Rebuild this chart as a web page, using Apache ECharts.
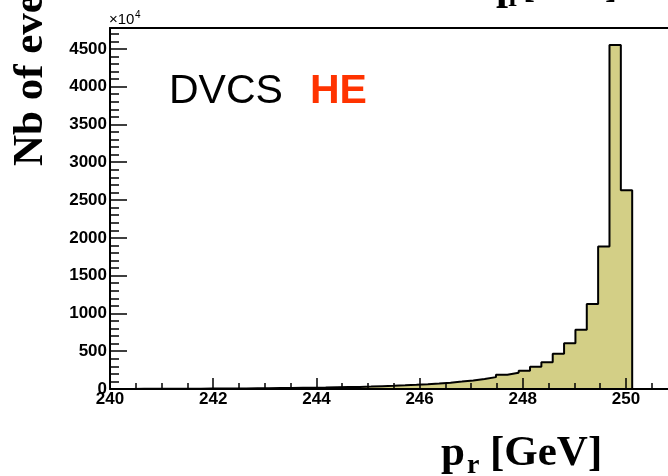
<!DOCTYPE html>
<html>
<head>
<meta charset="utf-8">
<script src="https://cdn.jsdelivr.net/npm/echarts@6/dist/echarts.min.js"></script>
<style>
  html, body { margin: 0; padding: 0; background: #fff; }
  #main { width: 668px; height: 476px; }
</style>
</head>
<body>
<div id="main"></div>
<script>
// histogram: 50 bins of 0.22 GeV starting at 240 GeV
const xLow = 240;
const binWidth = 0.22;
const counts = [
  1, 1, 2, 2, 3, 3, 4, 4, 5, 6,
  7, 8, 9, 10, 12, 13, 15, 17, 19, 22,
  25, 28, 32, 37, 42, 48, 55, 63, 72, 84,
  98, 113, 132, 157, 190, 215, 243, 295, 355, 465,
  605, 785, 1125, 1885, 4550, 2630, 0, 0, 0, 0
];
// the frame is cut by the right edge of the picture
const xAxisRange = [240, 250.814];
const yAxisRange = [0, 4776];

const xMajorTicks = [240, 242, 244, 246, 248, 250];
const xMinorTicks = [240.5, 241, 241.5, 242.5, 243, 243.5, 244.5, 245, 245.5,
  246.5, 247, 247.5, 248.5, 249, 249.5, 250.5];
const yMajorTicks = [0, 500, 1000, 1500, 2000, 2500, 3000, 3500, 4000, 4500];
const yMinorTicks = [100, 200, 300, 400, 600, 700, 800, 900, 1100, 1200, 1300, 1400,
  1600, 1700, 1800, 1900, 2100, 2200, 2300, 2400, 2600, 2700, 2800, 2900,
  3100, 3200, 3300, 3400, 3600, 3700, 3800, 3900, 4100, 4200, 4300, 4400,
  4600, 4700];

const serif = '"Liberation Serif", "Times New Roman", serif';
const sans = '"Liberation Sans", Arial, Helvetica, sans-serif';

// step outline: one point per left bin edge, plus the closing edge
const edges = counts.map((c, i) => xLow + i * binWidth);
const histData = edges.map((x, i) => [x, counts[i]]);
histData.push([xLow + counts.length * binWidth, counts[counts.length - 1]]);

const chart = echarts.init(document.getElementById('main'), null, { renderer: 'canvas' });

const blackLine = { color: '#000', width: 2 };
const tickLine = { color: '#000', width: 1.5 };
const plain = v => String(v);

chart.setOption({
  animation: false,
  backgroundColor: '#fff',
  grid: { left: 110, top: 28, right: 0, height: 361, containLabel: false, outerBoundsMode: 'none' },
  xAxis: [
    {
      type: 'value', min: xAxisRange[0], max: xAxisRange[1],
      position: 'bottom', z: 10,
      axisLine: { show: true, lineStyle: blackLine },
      axisTick: { show: true, inside: true, length: 11, lineStyle: tickLine, customValues: xMajorTicks },
      axisLabel: { show: true, margin: 2, color: '#000', fontFamily: sans, fontWeight: 'bold', fontSize: 17,
        customValues: xMajorTicks, formatter: plain },
      splitLine: { show: false }
    },
    {
      type: 'value', min: xAxisRange[0], max: xAxisRange[1],
      position: 'bottom', z: 10,
      axisLine: { show: false },
      axisTick: { show: true, inside: true, length: 6, lineStyle: tickLine, customValues: xMinorTicks },
      axisLabel: { show: false }, splitLine: { show: false }
    },
    {
      type: 'value', min: xAxisRange[0], max: xAxisRange[1],
      position: 'top', z: 10,
      axisLine: { show: true, lineStyle: blackLine },
      axisTick: { show: false }, axisLabel: { show: false }, splitLine: { show: false }
    }
  ],
  yAxis: [
    {
      type: 'value', min: yAxisRange[0], max: yAxisRange[1],
      position: 'left', z: 10,
      axisLine: { show: true, lineStyle: blackLine },
      axisTick: { show: true, inside: true, length: 17, lineStyle: tickLine, customValues: yMajorTicks },
      axisLabel: { show: true, margin: 3, color: '#000', fontFamily: sans, fontWeight: 'bold', fontSize: 17,
        customValues: yMajorTicks, formatter: plain },
      splitLine: { show: false }
    },
    {
      type: 'value', min: yAxisRange[0], max: yAxisRange[1],
      position: 'left', z: 10,
      axisLine: { show: false },
      axisTick: { show: true, inside: true, length: 9, lineStyle: tickLine, customValues: yMinorTicks },
      axisLabel: { show: false }, splitLine: { show: false }
    }
  ],
  series: [
    {
      type: 'line', step: 'end', xAxisIndex: 0, yAxisIndex: 0,
      data: histData, symbol: 'none', z: 2,
      lineStyle: { color: '#000', width: 2 },
      areaStyle: { color: '#d3cf86', opacity: 1 }
    }
  ],
  graphic: [
    // y title, rotated
    { type: 'text', x: 30.5, y: 166, rotation: Math.PI / 2,
      style: { text: 'Nb of events', x: 0, y: 0, fill: '#000', font: 'bold 43px ' + serif, textAlign: 'left', textVerticalAlign: 'middle' } },
    // exponent above y axis
    { type: 'text', style: { text: '×10', x: 109, y: 20, fill: '#000', font: '15px ' + sans, textAlign: 'left', textVerticalAlign: 'middle' } },
    { type: 'text', style: { text: '4', x: 135, y: 15.5, fill: '#000', font: '10px ' + sans, textAlign: 'left', textVerticalAlign: 'middle' } },
    // x title
    { type: 'text', style: { text: 'p', x: 441, y: 453.5, fill: '#000', font: 'bold 43px ' + serif, textAlign: 'left', textVerticalAlign: 'middle' } },
    { type: 'text', style: { text: 'r', x: 467, y: 465.5, fill: '#000', font: 'bold 28px ' + serif, textAlign: 'left', textVerticalAlign: 'middle' } },
    { type: 'text', style: { text: '[GeV]', x: 490, y: 453.5, fill: '#000', font: 'bold 43px ' + serif, textAlign: 'left', textVerticalAlign: 'middle' } },
    // title of the pad above, cut off by the top edge
    { type: 'text', style: { text: 'p', x: 496, y: -12.5, fill: '#000', font: 'bold 43px ' + serif, textAlign: 'left', textVerticalAlign: 'middle' } },
    { type: 'text', style: { text: 'r', x: 508, y: -1.5, fill: '#000', font: 'bold 28px ' + serif, textAlign: 'left', textVerticalAlign: 'middle' } },
    { type: 'text', style: { text: '[GeV]', x: 523, y: -12.2, fill: '#000', font: 'bold 36px ' + serif, textAlign: 'left', textVerticalAlign: 'middle' } },
    // in-plot label
    { type: 'text', style: { text: 'DVCS', x: 169, y: 91.8, fill: '#000', font: '41px ' + sans, textAlign: 'left', textVerticalAlign: 'middle' } },
    { type: 'text', style: { text: 'HE', x: 310, y: 91.8, fill: '#ff3300', font: 'bold 41px ' + sans, textAlign: 'left', textVerticalAlign: 'middle' } }
  ]
});
</script>
</body>
</html>
